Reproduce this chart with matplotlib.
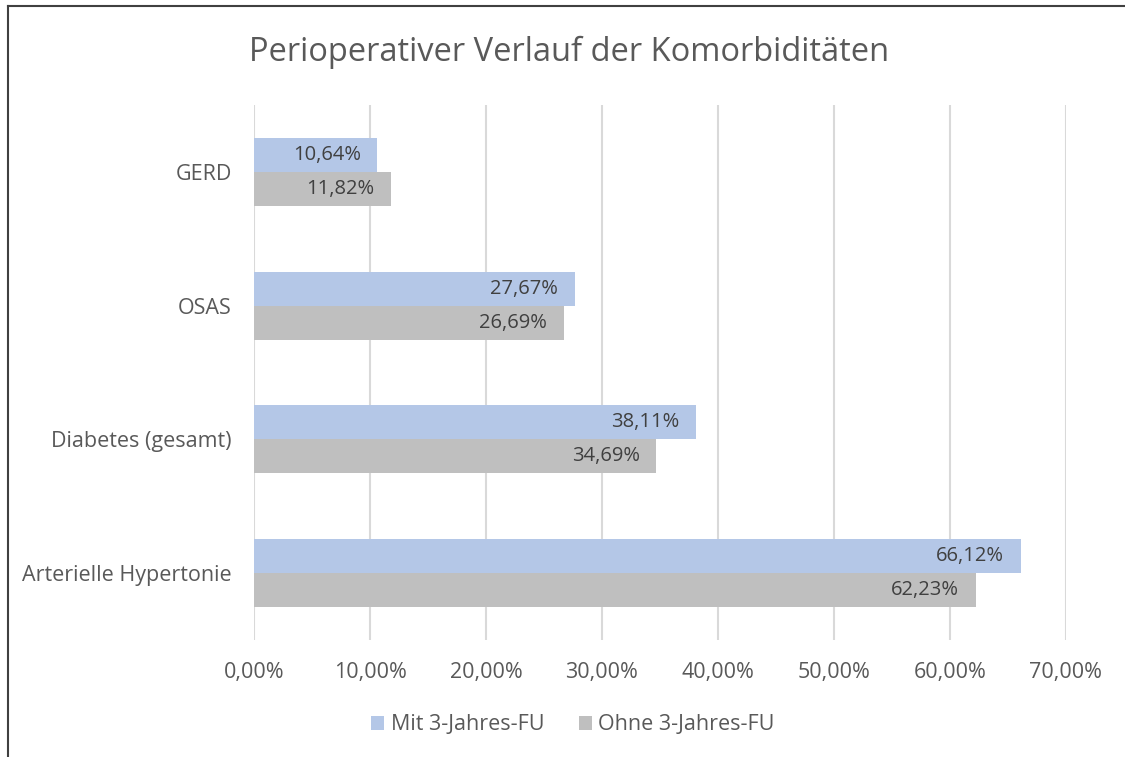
import numpy as np
import matplotlib
matplotlib.use('Agg')
import matplotlib.pyplot as plt
from matplotlib.patches import Patch
from matplotlib.lines import Line2D

plt.rcParams['font.family'] = ['Open Sans', 'DejaVu Sans']

# data
categories = ['Arterielle Hypertonie', 'Diabetes (gesamt)', 'OSAS', 'GERD']
mit_fu = [66.12, 38.11, 27.67, 10.64]
ohne_fu = [62.23, 34.69, 26.69, 11.82]
series_names = ['Mit 3-Jahres-FU', 'Ohne 3-Jahres-FU']
xticks = [0, 10, 20, 30, 40, 50, 60, 70]

blue = '#B4C7E7'
grey = '#BFBFBF'
text_col = '#595959'
label_col = '#404040'

fig = plt.figure(figsize=(11.25, 7.57), dpi=100)
W, H = 1125, 757
# plot area in pixel coords
left, right, top, bottom = 254, 1066, 105, 640
ax = fig.add_axes([left / W, 1 - bottom / H, (right - left) / W, (bottom - top) / H])

y = np.arange(len(categories))
h = 0.254
b1 = ax.barh(y + h / 2, mit_fu, height=h, color=blue, zorder=2)
b2 = ax.barh(y - h / 2, ohne_fu, height=h, color=grey, zorder=2)

# labels inside end of bars
for bars, vals in ((b1, mit_fu), (b2, ohne_fu)):
    for bar, v in zip(bars, vals):
        ax.annotate(f'{v:.2f}%'.replace('.', ','),
                    xy=(v, bar.get_y() + bar.get_height() / 2),
                    xytext=(-12, 0), textcoords='offset points',
                    ha='right', va='center', fontsize=14.5, color=label_col, zorder=3)

ax.set_xlim(0, 70)
ax.set_ylim(-0.5, len(categories) - 0.5)
ax.set_xticks(xticks)
ax.set_xticklabels([f'{t:.2f}%'.replace('.', ',') for t in xticks])
ax.set_yticks(y)
ax.set_yticklabels(categories)
ax.tick_params(axis='both', length=0, labelsize=15.5, colors=text_col)
ax.tick_params(axis='x', pad=16)
ax.tick_params(axis='y', pad=16)
ax.grid(axis='x', color='#D9D9D9', linewidth=1.5, zorder=0)
for s in ax.spines.values():
    s.set_visible(False)

fig.text(569 / W, 1 - 52 / H, 'Perioperativer Verlauf der Komorbiditäten',
         ha='center', va='center', fontsize=23.5, color=text_col)

handles = [Patch(facecolor=blue, edgecolor='none'), Patch(facecolor=grey, edgecolor='none')]
fig.legend(handles, series_names, loc='center', bbox_to_anchor=(573 / W, 1 - 725 / H),
           ncol=2, frameon=False, fontsize=15.5, labelcolor=text_col,
           handlelength=0.6, handleheight=0.6, handletextpad=0.3, columnspacing=1.6)

# chart border (left and top visible)
fig.add_artist(Line2D([7.5 / W, 7.5 / W], [0, 1 - 6 / H], transform=fig.transFigure,
                      color='#404040', linewidth=1.5))
fig.add_artist(Line2D([7.5 / W, 1], [1 - 6 / H, 1 - 6 / H], transform=fig.transFigure,
                      color='#404040', linewidth=1.5))

fig.savefig('out.png', dpi=100, facecolor='white')
